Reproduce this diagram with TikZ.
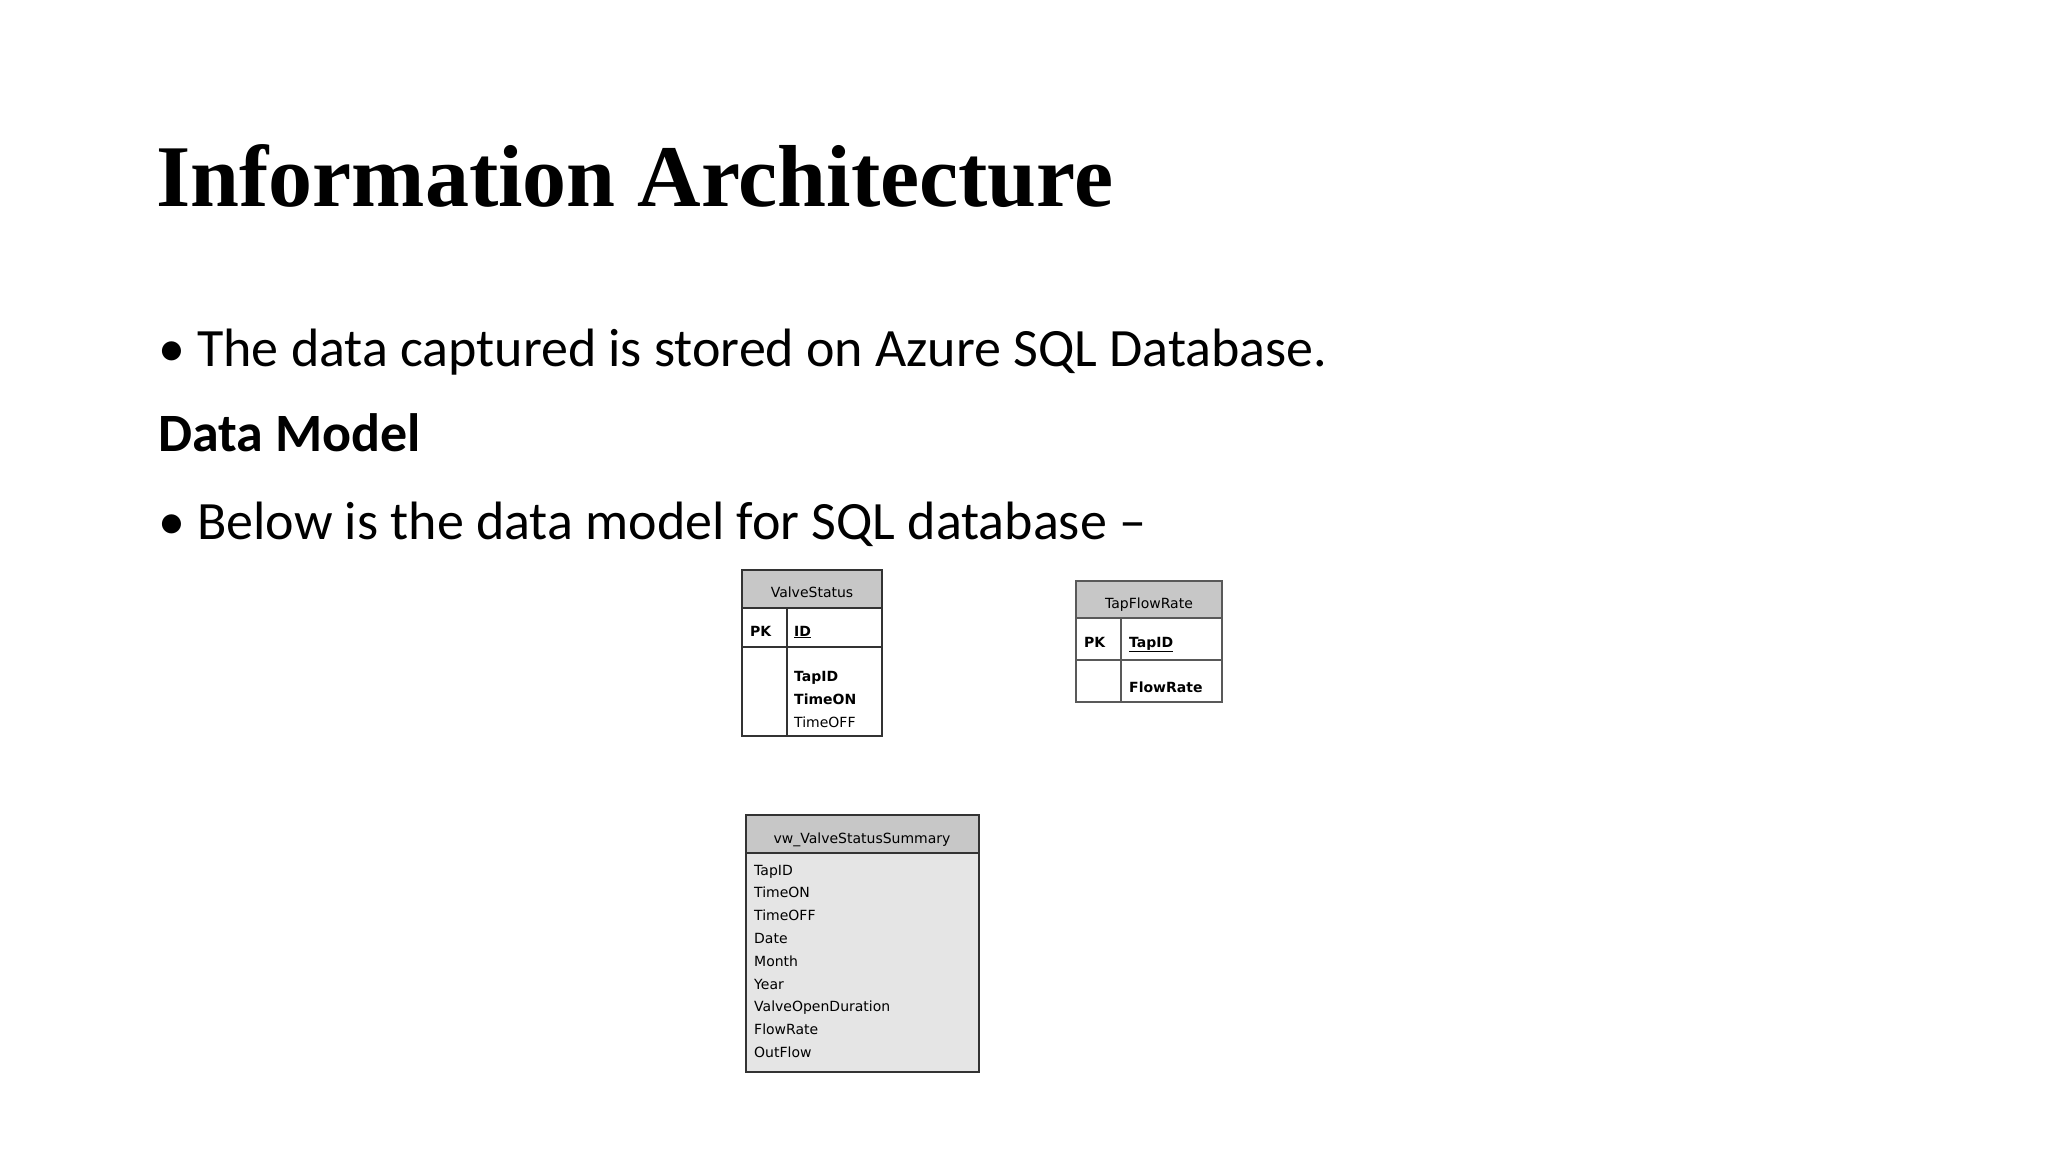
\documentclass[tikz,border=0pt]{standalone}
\usepackage{fontspec}
\setmainfont{Carlito}
\newfontfamily\titlefont{Liberation Serif}
\newfontfamily\tabfont{DejaVu Sans}
\begin{document}
\begin{tikzpicture}[x=1pt,y=-1pt,
  hdr/.style={fill=black!22},
  box/.style={draw=black!80,line width=1.5pt},
  tx/.style={inner sep=0pt,anchor=base west,font=\tabfont\fontsize{14}{16}\selectfont},
  txb/.style={tx,font=\tabfont\bfseries\fontsize{14}{16}\selectfont}]
\useasboundingbox (0,0) rectangle (2048,1152);
\node[inner sep=0pt,anchor=base west,font=\titlefont\bfseries\fontsize{88}{90}\selectfont] (title) at (156,206) {Information Architecture};
\node[inner sep=0pt,anchor=base west,font=\fontsize{54}{60}\selectfont] (b1) at (158,366) {\textbullet\ The data captured is stored on Azure SQL Database.};
\node[inner sep=0pt,anchor=base west,font=\bfseries\fontsize{54}{60}\selectfont] (dm) at (158,451) {Data Model};
\node[inner sep=0pt,anchor=base west,font=\fontsize{54}{60}\selectfont] (b2) at (158,539) {\textbullet\ Below is the data model for SQL database --};
% ValveStatus
\fill[hdr] (742,570) rectangle (882,608);
\draw[box] (742,570) rectangle (882,736);
\draw[box] (742,608) -- (882,608) (742,647) -- (882,647) (787,608) -- (787,736);
\node[tx,anchor=base] (vs) at (812,597) {ValveStatus};
\node[txb] (vspk) at (750,636) {PK};
\node[txb] (vsid) at (794,636) {\underline{ID}};
\node[txb] (vs1) at (794,681) {TapID};
\node[txb] (vs2) at (794,704) {TimeON};
\node[tx] (vs3) at (794,727) {TimeOFF};
% TapFlowRate
\fill[hdr] (1076,581) rectangle (1222,618);
\draw[box,draw=black!65] (1076,581) rectangle (1222,702);
\draw[box,draw=black!65] (1076,618) -- (1222,618) (1076,660) -- (1222,660) (1121,618) -- (1121,702);
\node[tx,anchor=base] (tf) at (1149,608) {TapFlowRate};
\node[txb] (tfpk) at (1084,647) {PK};
\node[txb] (tfid) at (1129,647) {\underline{TapID}};
\node[txb] (tffr) at (1129,692) {FlowRate};
% Summary
\fill[hdr] (746,815) rectangle (979,853);
\fill[black!10] (746,853) rectangle (979,1072);
\draw[box] (746,815) rectangle (979,1072);
\draw[box] (746,853) -- (979,853);
\node[tx,anchor=base] (sm) at (862,843) {vw\_ValveStatusSummary};
\foreach \t [count=\i] in {TapID,TimeON,TimeOFF,Date,Month,Year,ValveOpenDuration,FlowRate,OutFlow}
  \node[tx] (s\i) at (754,{870+5+(\i-1)*22.8}) {\t};
\end{tikzpicture}
\end{document}
